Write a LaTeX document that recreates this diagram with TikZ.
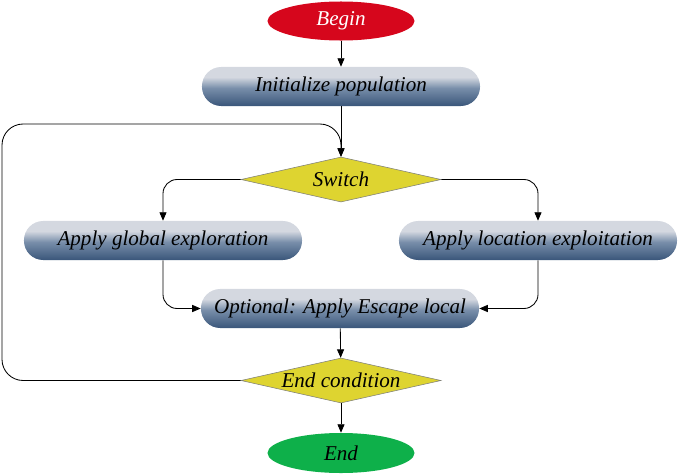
\documentclass[tikz,border=0pt]{standalone}
\usepackage{fontspec}
\setmainfont{Liberation Serif}
\usepackage{tikz}
\usetikzlibrary{shapes.geometric,arrows.meta,positioning}
\definecolor{beginred}{RGB}{214,6,28}
\definecolor{endgreen}{RGB}{14,176,74}
\definecolor{condyellow}{RGB}{222,212,48}
\definecolor{condedge}{RGB}{130,130,120}
\definecolor{pilltop}{RGB}{212,216,224}
\definecolor{pillmid}{RGB}{120,142,170}
\definecolor{pillbot}{RGB}{58,86,122}
\pgfdeclareverticalshading{pill}{100bp}{color(0bp)=(pillbot); color(25bp)=(pillbot); color(48bp)=(pillmid); color(62bp)=(pilltop); color(100bp)=(pilltop)}
\tikzset{
  terminal/.style={
    ellipse,
    minimum width = 3.675cm,
    minimum height = 0.975cm,
    inner sep = 0pt,
    font = \fontsize{15}{18}\selectfont\itshape
  },
  process/.style={
    rounded rectangle/.try,
    rectangle,
    rounded corners = 0.48cm,
    minimum width = 6.95cm,
    minimum height = 0.975cm,
    inner sep = 0pt,
    shading = pill,
    font = \fontsize{15}{18}\selectfont\itshape
  },
  decision/.style={
    diamond,
    aspect = 4.4,
    minimum width = 5.0cm,
    minimum height = 1.125cm,
    inner sep = 0pt,
    draw = condedge,
    fill = condyellow,
    font = \fontsize{15}{18}\selectfont\itshape
  },
  link/.style={
    draw,
    line width = 0.6pt
  },
  arr/.style={
    link,
    -{Triangle[length=6pt,width=5pt]}
  }
}
\begin{document}
\begin{tikzpicture}[x=0.025cm, y=-0.025cm]
    \useasboundingbox (0,0) rectangle (678,474);
    % nodes
    \node[terminal, fill=beginred, text=white] (begin) at (341,21) {Begin};
    \node[process] (init) at (341,86.5) {Initialize population};
    \node[decision] (switch) at (341,179.5) {Switch};
    \node[process] (global) at (163,240.5) {Apply global exploration};
    \node[process] (exploit) at (538,240.5) {Apply location exploitation};
    \node[process] (optional) at (340,308.5) {Optional: Apply Escape local};
    \node[decision] (endcond) at (341,380.5) {End condition};
    \node[terminal, fill=endgreen, minimum height=1.0cm] (end) at (341,453) {End};
    \coordinate (loop) at (2,124);
    % connectors
    \draw[arr] (begin) -- (init);
    \draw[arr] (init) -- (switch);
    \draw[arr, rounded corners=10pt] (switch.west) -| (global.north);
    \draw[arr, rounded corners=10pt] (switch.east) -| (exploit.north);
    \draw[arr, rounded corners=10pt] (global.south) |- (optional.west);
    \draw[arr, rounded corners=10pt] (exploit.south) |- (optional.east);
    \draw[arr] (optional) -- (endcond);
    \draw[arr] (endcond) -- (end);
    \draw[arr, rounded corners=15pt] (endcond.west) -| (loop) -| (switch.north);
\end{tikzpicture}
\end{document}
